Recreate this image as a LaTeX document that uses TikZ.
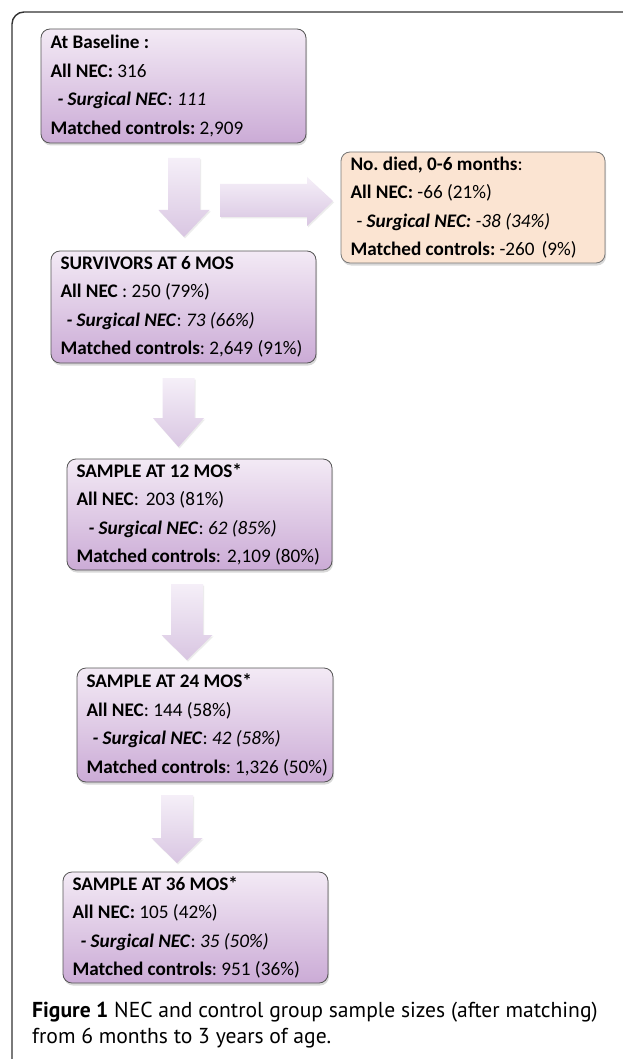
\documentclass[tikz,border=0pt]{standalone}
\usepackage{fontspec}
\setmainfont{Carlito}
\newfontfamily\capfont{PT Sans}
\usetikzlibrary{shadows}
\definecolor{boxtop}{HTML}{F3EAF5}
\definecolor{boxbot}{HTML}{CBABD6}
\definecolor{boxedge}{HTML}{555555}
\definecolor{diedfill}{HTML}{FBE4D2}
\definecolor{arrtop}{HTML}{F5EFF8}
\definecolor{arrbot}{HTML}{D9C6E2}
\definecolor{framecol}{HTML}{333333}
\newcommand{\dnarrow}[4]{\path[blockarrow] ({#1-16},#2) -- ({#1+16},#2) -- ({#1+16},#3) -- ({#1+25.5},#3) -- (#1,#4) -- ({#1-25.5},#3) -- ({#1-16},#3) -- cycle;}
\begin{document}
\begin{tikzpicture}[x=1pt,y=-1pt,
  box/.style={rounded corners=9pt, draw=boxedge, line width=0.8pt,
    top color=boxtop, bottom color=boxbot,
    drop shadow={opacity=0.3, shadow xshift=1pt, shadow yshift=-2.5pt},
    align=flush left, inner xsep=9.5pt, inner ysep=0pt,
    font=\fontsize{19.2}{28.5}\selectfont\frenchspacing, anchor=center},
  diedbox/.style={box, top color=diedfill, bottom color=diedfill, draw=boxedge!80},
  blockarrow/.style={top color=arrtop, bottom color=arrbot, draw=none,
    drop shadow={opacity=0.15, shadow xshift=1pt, shadow yshift=-1.5pt}},
  captext/.style={anchor=base west, inner sep=0pt, font=\capfont\fontsize{21.6}{26}\selectfont}
]
\useasboundingbox (0,0) rectangle (622,1059);
\fill[white] (0,0) rectangle (622,1059);
\draw[framecol, line width=1.4pt, rounded corners=12pt] (12,1062) |- (625,12);

\node[box, text width=246pt, minimum height=114pt] (base) at (173.5,86)
 {\textbf{At Baseline :}\\
  \textbf{All NEC:} 316\\
  \hspace*{7pt}\textbf{\textit{- Surgical NEC}}: \textit{111}\\
  \mbox{\textbf{Matched controls:} 2,909}};

\node[diedbox, text width=245pt, minimum height=111pt] (died) at (473,207.5)
 {\textbf{No. died, 0-6 months}:\\
  \textbf{All NEC:} -66 (21\%)\\
  \hspace*{6pt}- \textbf{\textit{Surgical NEC:}} \textit{-38 (34\%)}\\
  \mbox{\textbf{Matched controls:} -260\hspace{7pt}(9\%)}};

\node[box, text width=246pt, minimum height=112pt] (s6) at (183.5,307)
 {\textbf{SURVIVORS AT 6 MOS}\\
  \textbf{All NEC} : 250 (79\%)\\
  \hspace*{6pt}\textbf{\textit{- Surgical NEC}}: \textit{73 (66\%)}\\
  \mbox{\textbf{Matched controls}: 2,649 (91\%)}};

\node[box, text width=246pt, minimum height=111pt] (s12) at (199.5,514.5)
 {\textbf{SAMPLE AT 12 MOS*}\\
  \textbf{All NEC}:\hspace{7pt}203 (81\%)\\
  \hspace*{12pt}\textbf{\textit{- Surgical NEC}}: \textit{62 (85\%)}\\
  \mbox{\textbf{Matched controls}:\hspace{6pt}2,109 (80\%)}};

\node[box, text width=237pt, minimum height=114pt] (s24) at (205,725)
 {\textbf{SAMPLE AT 24 MOS*}\\
  \textbf{All NEC}: 144 (58\%)\\
  \hspace*{6pt}\textbf{\textit{- Surgical NEC}}: \textit{42 (58\%)}\\
  \mbox{\textbf{Matched controls}:\hspace{4pt}1,326 (50\%)}};

\node[box, text width=246pt, minimum height=111pt] (s36) at (195.5,927.5)
 {\textbf{SAMPLE AT 36 MOS*}\\
  \textbf{All NEC:} 105 (42\%)\\
  \hspace*{8pt}\textbf{\textit{- Surgical NEC}}: \textit{35 (50\%)}\\
  \mbox{\textbf{Matched controls}: 951 (36\%)}};

% block arrows
\dnarrow{184}{158}{210}{237}
\path[blockarrow] (220,184) -- (307,184) -- (307,177) -- (333,201) -- (307,226) -- (307,217) -- (220,217) -- cycle;
\dnarrow{178.5}{378}{418}{447}
\dnarrow{187}{584}{635}{660}
\dnarrow{177}{795}{838}{863}

% caption
\node[captext] (cap1) at (32,1017) {\textbf{Figure 1} NEC and control group sample sizes (after matching)};
\node[captext] (cap2) at (32,1043) {from 6 months to 3 years of age.};
\end{tikzpicture}
\end{document}
